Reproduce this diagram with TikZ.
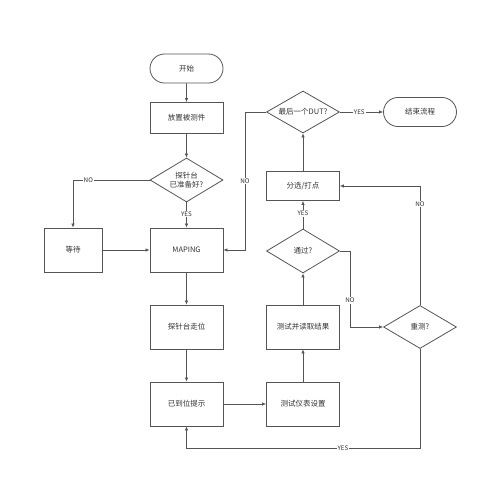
\documentclass[tikz,border=0pt]{standalone}
\usepackage{fontspec}
\setmainfont{Noto Sans CJK SC}
\usetikzlibrary{shapes.geometric,shapes.misc,arrows.meta}
\definecolor{ln}{HTML}{555555}
\definecolor{tx}{HTML}{333333}
\tikzset{
  base/.style={draw=ln, line width=0.8pt, text=tx, font=\fontsize{7.5}{9}\selectfont, inner sep=0pt, align=center},
  box/.style={base, rectangle, minimum width=73pt, minimum height=44pt},
  term/.style={base, rounded rectangle, minimum width=73pt, minimum height=29pt},
  dia/.style={base, diamond, aspect=1.65, minimum width=73pt, minimum height=44pt},
  conn/.style={draw=ln, line width=0.7pt, -{Latex[length=4pt,width=3.5pt]}},
  lbl/.style={fill=white, text=tx, font=\fontsize{6.3}{7}\selectfont, inner sep=0.8pt}
}
\begin{document}
\begin{tikzpicture}[x=1pt,y=-1pt]
\useasboundingbox[fill=white] (0,0) rectangle (500,500);
\node[term] (start) at (186.5,68.5) {开始};
\node[box, minimum height=31pt] (place) at (186.5,118) {放置被测件};
\node[dia, font=\fontsize{7.5}{8.5}\selectfont] (d1) at (186.5,180) {探针台\\已准备好?};
\node[box] (maping) at (186.5,250) {MAPING};
\node[box, minimum width=58pt] (wait) at (73,250) {等待};
\node[box] (walk) at (186.5,327) {探针台走位};
\node[box] (arrive) at (186.5,404) {已到位提示};
\node[box] (setup) at (303,404) {测试仪表设置};
\node[box] (test) at (303,327) {测试并读取结果};
\node[dia] (pass) at (303,251) {通过?};
\node[box, minimum height=29pt] (sort) at (303,186) {分选/打点};
\node[dia, minimum height=42pt] (last) at (303,112) {最后一个DUT?};
\node[term] (end) at (420,112) {结束流程};
\node[dia, minimum height=43pt] (retest) at (420,327) {重测?};
\coordinate (c1) at (245,112);
\coordinate (c2) at (245,250);
\coordinate (c3) at (350,251);
\coordinate (c4) at (350,327);
\coordinate (c5) at (420,186);
\coordinate (c6) at (420,448);
\coordinate (c7) at (186.5,448);
\coordinate (c8) at (73,180);

\draw[conn] (start) -- (place);
\draw[conn] (place) -- (d1);
\draw[conn] (d1) -- node[lbl, pos=0.45]{YES} (maping);
\draw[conn] (d1.west) -- node[lbl, pos=0.8]{NO} (c8) -- (wait.north);
\draw[conn] (wait) -- (maping);
\draw[conn] (maping) -- (walk);
\draw[conn] (walk) -- (arrive);
\draw[conn] (arrive) -- (setup);
\draw[conn] (setup) -- (test);
\draw[conn] (test) -- (pass);
\draw[conn] (pass) -- node[lbl, pos=0.55]{YES} (sort);
\draw[conn] (sort) -- (last);
\draw[conn] (last) -- node[lbl, pos=0.45]{YES} (end);
\draw[conn] (last.west) -- (c1) -- node[lbl, pos=0.5]{NO} (c2) -- (maping.east);
\draw[conn] (pass.east) -- (c3) -- node[lbl, pos=0.65]{NO} (c4) -- (retest.west);
\draw[conn] (retest.north) -- node[lbl, pos=0.85]{NO} (c5) -- (sort.east);
\draw[conn] (retest.south) -- (c6) -- node[lbl, pos=0.33]{YES} (c7) -- (arrive.south);
\end{tikzpicture}
\end{document}
